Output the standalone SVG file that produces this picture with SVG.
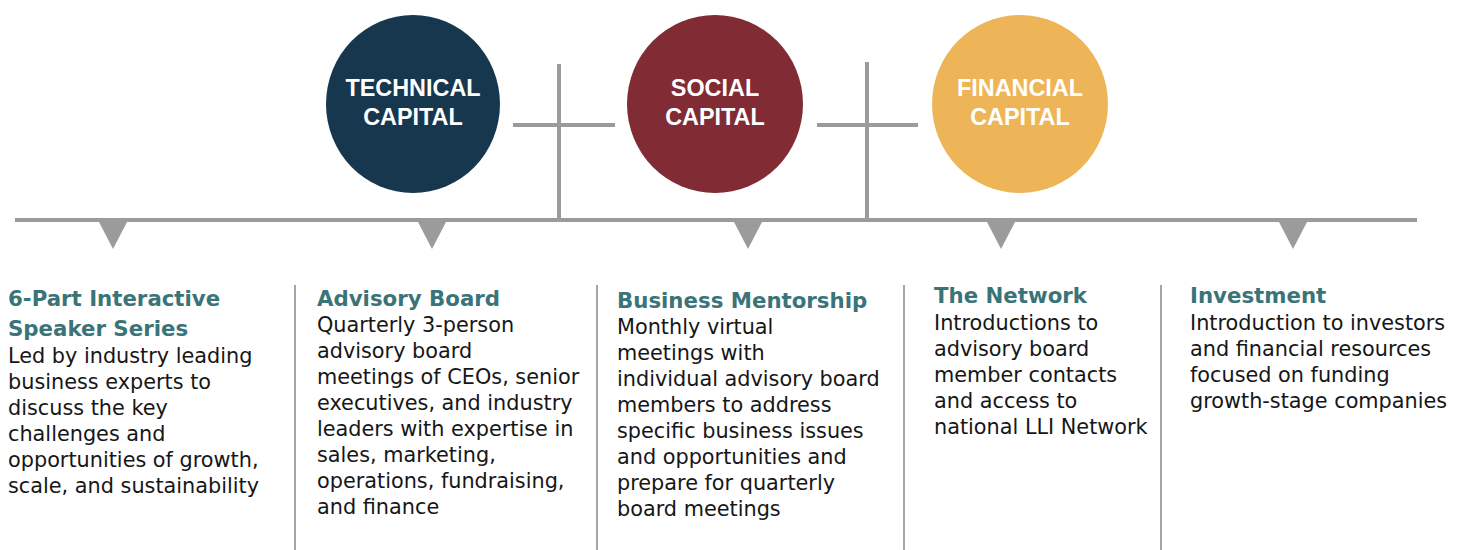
<svg xmlns="http://www.w3.org/2000/svg" width="1472" height="550" viewBox="0 0 1472 550">
<style>
.bg{fill:#ffffff}
.ln{stroke:#9b9b9b;stroke-width:4;fill:none}
.div{stroke:#a6a6a6;stroke-width:2;fill:none}
.tri{fill:#9b9b9b}
.ct{font-family:"Liberation Sans",Arial,sans-serif;font-weight:bold;font-size:23.4px;fill:#ffffff;text-anchor:middle}
.tt{font-family:"DejaVu Sans","Liberation Sans",sans-serif;font-weight:bold;font-size:21.3px;fill:#3a7479}
.bd{font-family:"DejaVu Sans","Liberation Sans",sans-serif;font-size:20.8px;fill:#161616}
</style>
<rect class="bg" x="0" y="0" width="1472" height="550"/>
<g id="connectors">
  <line class="ln" x1="15" y1="220" x2="1417" y2="220"/>
  <line class="ln" x1="559" y1="64" x2="559" y2="220"/>
  <line class="ln" x1="513" y1="125" x2="615" y2="125"/>
  <line class="ln" x1="867" y1="62" x2="867" y2="220"/>
  <line class="ln" x1="817" y1="125" x2="918" y2="125"/>
  <polygon class="tri" points="99,222 127,222 113,249"/>
  <polygon class="tri" points="418,222 446,222 432,249"/>
  <polygon class="tri" points="734,222 762,222 748,249"/>
  <polygon class="tri" points="987,222 1015,222 1001,249"/>
  <polygon class="tri" points="1279,222 1307,222 1293,249"/>
  <line class="div" x1="295" y1="285" x2="295" y2="550"/>
  <line class="div" x1="597" y1="285" x2="597" y2="550"/>
  <line class="div" x1="904" y1="285" x2="904" y2="550"/>
  <line class="div" x1="1161" y1="285" x2="1161" y2="550"/>
</g>
<g id="technical">
  <ellipse cx="413" cy="104" rx="87" ry="89" fill="#17374f"/>
  <text class="ct" x="413" y="96">TECHNICAL</text>
  <text class="ct" x="413" y="125">CAPITAL</text>
</g>
<g id="social">
  <ellipse cx="715" cy="104" rx="88" ry="89" fill="#812b35"/>
  <text class="ct" x="715" y="96">SOCIAL</text>
  <text class="ct" x="715" y="125">CAPITAL</text>
</g>
<g id="financial">
  <ellipse cx="1020" cy="104" rx="88" ry="89" fill="#edb557"/>
  <text class="ct" x="1020" y="96">FINANCIAL</text>
  <text class="ct" x="1020" y="125">CAPITAL</text>
</g>
<g id="col1">
  <text class="tt" x="8" y="306">6-Part Interactive</text>
  <text class="tt" x="8" y="336">Speaker Series</text>
  <text class="bd" x="8" y="363">Led by industry leading</text>
  <text class="bd" x="8" y="389">business experts to</text>
  <text class="bd" x="8" y="415">discuss the key</text>
  <text class="bd" x="8" y="441">challenges and</text>
  <text class="bd" x="8" y="467">opportunities of growth,</text>
  <text class="bd" x="8" y="493">scale, and sustainability</text>
</g>
<g id="col2">
  <text class="tt" x="317" y="306">Advisory Board</text>
  <text class="bd" x="317" y="332">Quarterly 3-person</text>
  <text class="bd" x="317" y="358">advisory board</text>
  <text class="bd" x="317" y="384">meetings of CEOs, senior</text>
  <text class="bd" x="317" y="410">executives, and industry</text>
  <text class="bd" x="317" y="436">leaders with expertise in</text>
  <text class="bd" x="317" y="462">sales, marketing,</text>
  <text class="bd" x="317" y="488">operations, fundraising,</text>
  <text class="bd" x="317" y="514">and finance</text>
</g>
<g id="col3">
  <text class="tt" x="617" y="308">Business Mentorship</text>
  <text class="bd" x="617" y="334">Monthly virtual</text>
  <text class="bd" x="617" y="360">meetings with</text>
  <text class="bd" x="617" y="386">individual advisory board</text>
  <text class="bd" x="617" y="412">members to address</text>
  <text class="bd" x="617" y="438">specific business issues</text>
  <text class="bd" x="617" y="464">and opportunities and</text>
  <text class="bd" x="617" y="490">prepare for quarterly</text>
  <text class="bd" x="617" y="516">board meetings</text>
</g>
<g id="col4">
  <text class="tt" x="934" y="303">The Network</text>
  <text class="bd" x="934" y="330">Introductions to</text>
  <text class="bd" x="934" y="356">advisory board</text>
  <text class="bd" x="934" y="382">member contacts</text>
  <text class="bd" x="934" y="408">and access to</text>
  <text class="bd" x="934" y="434">national LLI Network</text>
</g>
<g id="col5">
  <text class="tt" x="1190" y="303">Investment</text>
  <text class="bd" x="1190" y="330">Introduction to investors</text>
  <text class="bd" x="1190" y="356">and financial resources</text>
  <text class="bd" x="1190" y="382">focused on funding</text>
  <text class="bd" x="1190" y="408">growth-stage companies</text>
</g>
</svg>
